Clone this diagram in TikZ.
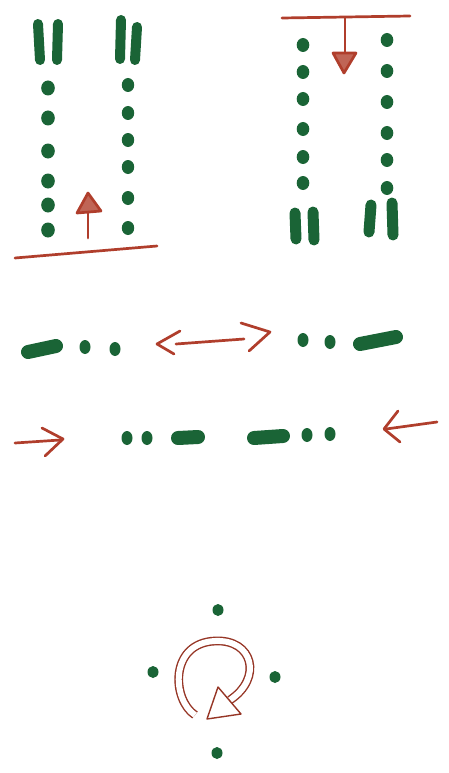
\documentclass[tikz,border=0pt]{standalone}
\begin{document}
\begin{tikzpicture}[x=1pt,y=-1pt,
  pen/.style={draw=penRed,line width=2.7pt,line cap=round,line join=round},
  dashmark/.style={draw=penGreen,line width=#1,line cap=round},
  dashmark/.default=10pt]
\definecolor{penRed}{RGB}{176,62,44}
\definecolor{penGreen}{RGB}{26,100,54}
\useasboundingbox[fill=white] (0,0) rectangle (449,773);
% ---------- top-left panel ----------
\draw[dashmark] (38,24) -- (40,60);
\draw[dashmark] (58,24) -- (57,60);
\draw[dashmark] (121,20) -- (120,59);
\draw[dashmark] (137,27) -- (135,60);
\foreach \y in {88,118,151,181,205,230}
  \fill[penGreen] (48,\y) ellipse (6.8pt and 7.5pt);
\foreach \y in {85,113,140,167,198,228}
  \fill[penGreen] (128,\y) ellipse (6.2pt and 7pt);
\draw[pen] (15,258) -- (157,246);
\draw[pen] (88,238) -- (88,205);
\draw[pen,fill=penRed!80] (88,193) -- (77,213) -- (101,211) -- cycle;
% ---------- top-right panel ----------
\draw[pen] (282,18) -- (410,16);
\draw[pen] (345,18) -- (345,55);
\draw[pen,fill=penRed!80] (333,53) -- (356,53) -- (344,73) -- cycle;
\foreach \y in {45,72,99,129,157,183}
  \fill[penGreen] (303,\y) ellipse (6.3pt and 7pt);
\foreach \y in {40,71,102,133,160,188}
  \fill[penGreen] (387,\y) ellipse (6.3pt and 7pt);
\draw[dashmark=11pt] (295,213) -- (296,239);
\draw[dashmark=11pt] (313,212) -- (314,240);
\draw[dashmark=11pt] (371,205) -- (369,232);
\draw[dashmark=11pt] (392,203) -- (393,235);
% ---------- row 3 ----------
\draw[dashmark=14pt] (28,352) -- (56,346);
\fill[penGreen] (85,347) ellipse (5.5pt and 7pt);
\fill[penGreen] (115,349) ellipse (5.5pt and 7pt);
\draw[pen] (176,344) -- (244,339);
\draw[pen] (180,331) -- (157,344) -- (174,354);
\draw[pen] (241,323) -- (270,332) -- (249,351);
\fill[penGreen] (303,340) ellipse (5.5pt and 7pt);
\fill[penGreen] (330,342) ellipse (5.5pt and 7pt);
\draw[dashmark=14pt] (360,344) -- (396,337);
% ---------- row 4 ----------
\draw[pen] (15,443) -- (60,440);
\draw[pen] (42,428) -- (63,439) -- (45,456);
\fill[penGreen] (127,438) ellipse (5.5pt and 7pt);
\fill[penGreen] (147,438) ellipse (5.5pt and 7pt);
\draw[dashmark=14pt] (178,438) -- (198,437);
\draw[dashmark=14pt] (254,438) -- (283,436);
\fill[penGreen] (307,435) ellipse (5.5pt and 7pt);
\fill[penGreen] (330,434) ellipse (5.5pt and 7pt);
\draw[pen] (437,422) -- (386,429);
\draw[pen] (398,411) -- (384,429) -- (400,442);
% ---------- bottom: rotation ----------
\fill[penGreen] (218,610) ellipse (5.5pt and 6pt);
\fill[penGreen] (153,672) ellipse (5.5pt and 6pt);
\fill[penGreen] (275,677) ellipse (5.5pt and 6pt);
\fill[penGreen] (217,753) ellipse (5.5pt and 6pt);
\draw[draw=penRed!85!black,line width=1.4pt,double=white,double distance=6pt,line cap=butt]
  (195,715) .. controls (172,700) and (169,643) .. (215,641)
            .. controls (253,639) and (263,678) .. (230,700);
\draw[draw=penRed!85!black,line width=1.4pt,fill=white,line join=round]
  (207,719) -- (218,687) -- (241,714) -- cycle;
\end{tikzpicture}
\end{document}
